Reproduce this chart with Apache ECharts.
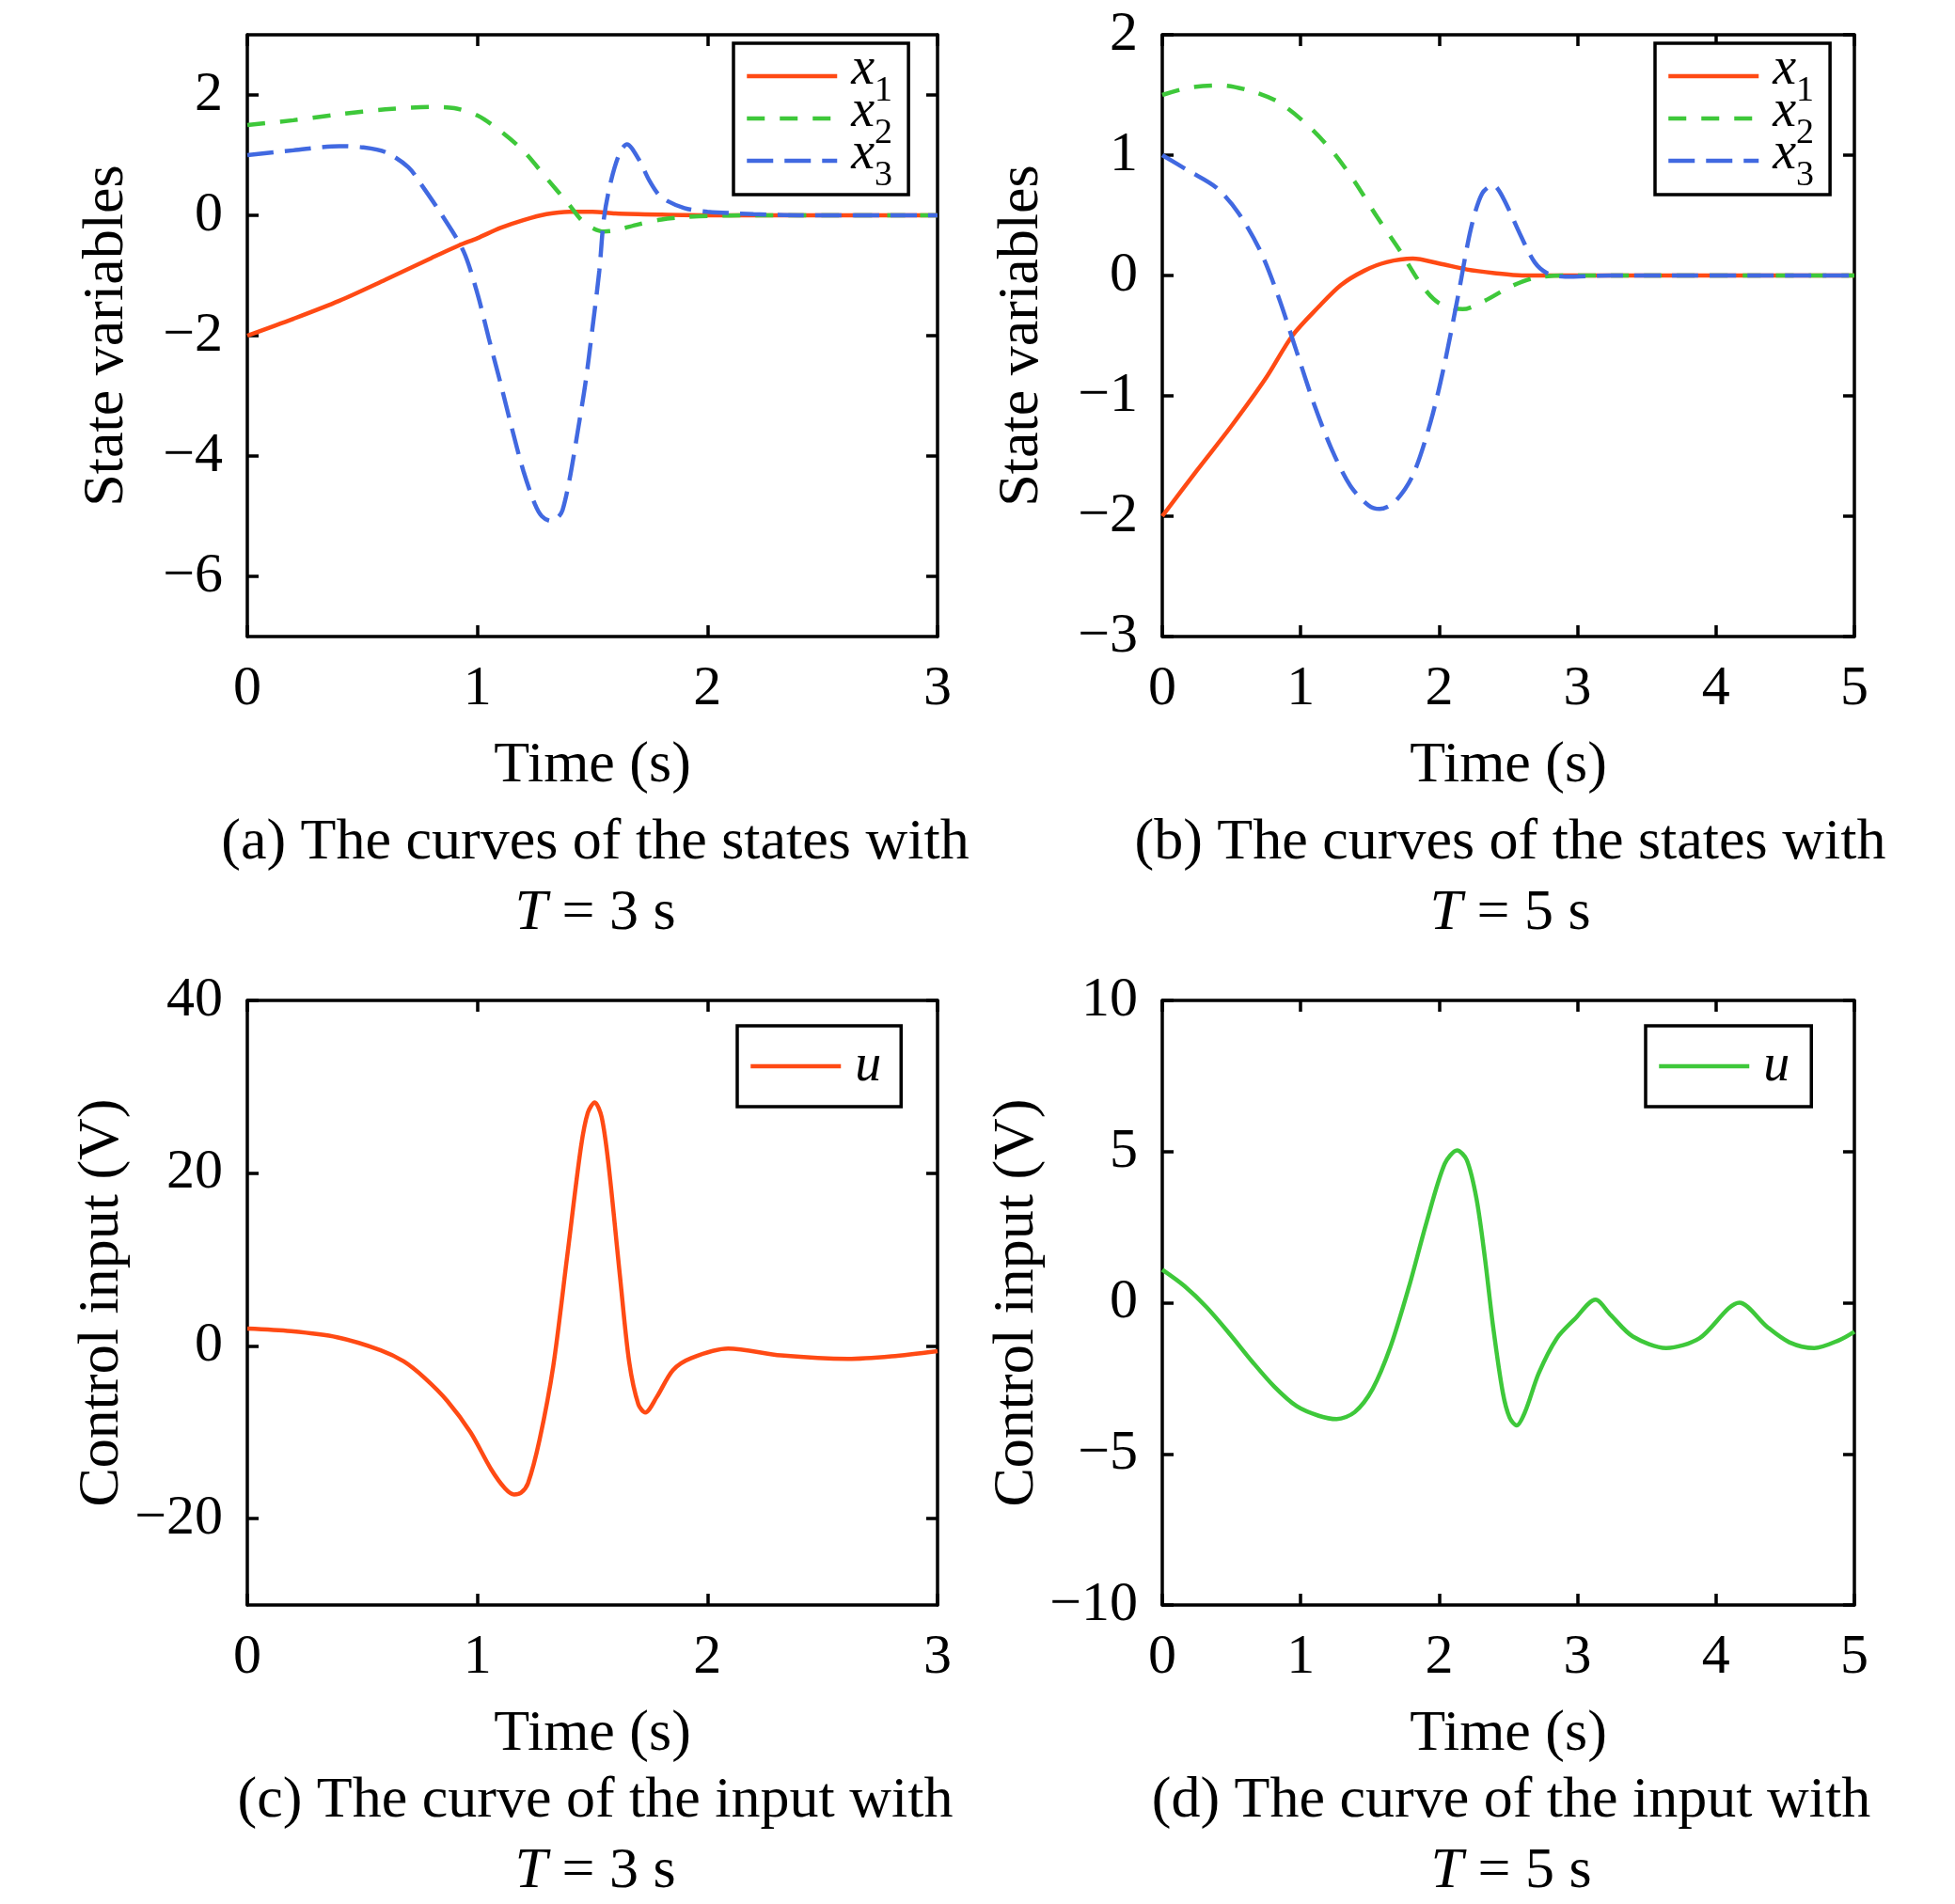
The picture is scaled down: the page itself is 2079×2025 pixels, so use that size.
<!DOCTYPE html>
<html>
<head>
<meta charset="utf-8">
<title>State and input curves</title>
<script src="https://cdn.jsdelivr.net/npm/echarts@6/dist/echarts.min.js"></script>
<style>
  html, body { margin: 0; padding: 0; background: #fff; }
  #main { width: 2079px; height: 2025px; }
</style>
</head>
<body>
<div id="main"></div>
<script>
var myChart = echarts.init(document.getElementById('main'));

/* (a) states, T = 3 s */
var tX1a = [0, 0.2, 0.4, 0.6, 0.8, 0.92, 1.0, 1.1, 1.2, 1.3, 1.4, 1.5, 1.6, 1.8, 2.0, 2.5, 3.0];
var x1a  = [-2, -1.72, -1.42, -1.07, -0.71, -0.5, -0.38, -0.21, -0.08, 0.02, 0.06, 0.06, 0.03, 0.01, 0, 0, 0];
var tX2a = [0, 0.2, 0.4, 0.6, 0.8, 0.9, 1.0, 1.1, 1.2, 1.3, 1.4, 1.45, 1.5, 1.55, 1.6, 1.7, 1.8, 1.9, 2.0, 2.2, 2.5, 3.0];
var x2a  = [1.5, 1.58, 1.68, 1.76, 1.8, 1.78, 1.66, 1.4, 1.07, 0.62, 0.17, -0.07, -0.21, -0.27, -0.25, -0.15, -0.07, -0.03, -0.01, 0, 0, 0];
var tX3a = [0, 0.2, 0.4, 0.5, 0.6, 0.7, 0.76, 0.85, 0.94, 1.0, 1.05, 1.1, 1.15, 1.2, 1.25, 1.28, 1.32, 1.35, 1.37, 1.4, 1.44, 1.47, 1.5, 1.53, 1.55, 1.58, 1.62, 1.65, 1.7, 1.75, 1.8, 1.9, 2.0, 2.2, 2.4, 3.0];
var x3a  = [1.0, 1.08, 1.15, 1.13, 1.05, 0.8, 0.49, -0.02, -0.6, -1.3, -2.05, -2.78, -3.54, -4.25, -4.8, -5.0, -5.08, -5.02, -4.9, -4.4, -3.5, -2.78, -1.88, -0.92, -0.05, 0.56, 1.05, 1.18, 0.94, 0.56, 0.3, 0.12, 0.06, 0.02, 0, 0];

/* (b) states, T = 5 s */
var tX1b = [0, 0.25, 0.5, 0.75, 0.94, 1.13, 1.29, 1.46, 1.62, 1.81, 2.0, 2.2, 2.4, 2.6, 3.0, 5.0];
var x1b  = [-2, -1.62, -1.25, -0.85, -0.5, -0.26, -0.08, 0.04, 0.11, 0.14, 0.1, 0.05, 0.02, 0, 0, 0];
var tX2b = [0, 0.19, 0.42, 0.65, 0.84, 1.04, 1.23, 1.39, 1.55, 1.72, 1.88, 2.0, 2.17, 2.33, 2.52, 2.69, 2.91, 5.0];
var x2b  = [1.5, 1.56, 1.58, 1.53, 1.44, 1.26, 1.03, 0.78, 0.49, 0.2, -0.09, -0.23, -0.28, -0.21, -0.09, -0.02, 0, 0];
var tX3b = [0, 0.19, 0.39, 0.55, 0.71, 0.84, 0.97, 1.1, 1.23, 1.36, 1.49, 1.57, 1.68, 1.81, 1.94, 2.04, 2.14, 2.23, 2.31, 2.39, 2.46, 2.59, 2.69, 2.78, 2.91, 3.24, 5.0];
var x3b  = [1, 0.87, 0.73, 0.52, 0.2, -0.18, -0.63, -1.08, -1.46, -1.75, -1.91, -1.94, -1.88, -1.66, -1.21, -0.73, -0.15, 0.39, 0.68, 0.75, 0.65, 0.33, 0.11, 0.02, -0.01, 0, 0];

/* (c) input, T = 3 s */
var tUc = [0, 0.19, 0.39, 0.58, 0.68, 0.77, 0.87, 0.97, 1.06, 1.12, 1.16, 1.19, 1.22, 1.27, 1.33, 1.39, 1.45, 1.48, 1.51, 1.54, 1.57, 1.62, 1.66, 1.70, 1.73, 1.78, 1.85, 1.93, 2.09, 2.32, 2.61, 2.8, 3.0];
var uc  = [2.0, 1.7, 1.0, -0.5, -1.8, -3.7, -6.4, -10, -14.3, -16.5, -17.2, -17.0, -15.9, -10.9, -2.3, 10.3, 23, 27, 28.2, 26.5, 21, 8, -1.9, -6.8, -7.7, -5.9, -2.8, -1.4, -0.3, -1.1, -1.5, -1.2, -0.6];

/* (d) input, T = 5 s */
var tUd = [0, 0.16, 0.32, 0.49, 0.65, 0.81, 0.97, 1.13, 1.26, 1.39, 1.52, 1.65, 1.78, 1.91, 2.04, 2.13, 2.2, 2.27, 2.33, 2.39, 2.46, 2.51, 2.56, 2.62, 2.72, 2.85, 2.98, 3.13, 3.24, 3.4, 3.64, 3.88, 4.17, 4.37, 4.53, 4.71, 4.89, 5.0];
var ud  = [1.09, 0.55, -0.15, -1.05, -1.95, -2.78, -3.42, -3.74, -3.85, -3.62, -2.85, -1.44, 0.49, 2.67, 4.59, 5.04, 4.72, 3.44, 1.51, -0.79, -2.97, -3.81, -4.06, -3.62, -2.33, -1.18, -0.54, 0.1, -0.41, -1.12, -1.5, -1.18, 0.0, -0.8, -1.31, -1.5, -1.24, -0.96];

/* tick labels */
var yTicksA = [-6, -4, -2, 0, 2];
var yTicksB = [-3, -2, -1, 0, 1, 2];
var yTicksC = [-20, 0, 20, 40];
var yTicksD = [-10, -5, 0, 5, 10];

var captions = [
	'(a) The curves of the states with\n{i|T} = 3 s',
	'(b) The curves of the states with\n{i|T} = 5 s',
	'(c) The curve of the input with\n{i|T} = 3 s',
	'(d) The curve of the input with\n{i|T} = 5 s'
];

var FONT = 'Liberation Serif';
var RED = '#ff4a14', GREEN = '#3ec83a', BLUE = '#4169e1';

function zip(t, v) {
	return t.map(function (x, i) { return [x, v[i]]; });
}

function minus(v) {
	return v < 0 ? '\u2212' + Math.abs(v) : String(v);
}

var grids = [
	{left: 263, top: 37, width: 734, height: 640},
	{left: 1236, top: 37, width: 736, height: 640},
	{left: 263, top: 1064, width: 734, height: 643},
	{left: 1236, top: 1064, width: 736, height: 643}
];

var xMax = [3, 5, 3, 5];
var yRange = [[-7, 3], [-3, 2], [-30, 40], [-10, 10]];
var yTicks = [yTicksA, yTicksB, yTicksC, yTicksD];
var yNames = ['State variables', 'State variables', 'Control input (V)', 'Control input (V)'];

var axisLine = {onZero: false, lineStyle: {color: '#000', width: 3.5}};
var tick = {inside: true, length: 12, lineStyle: {color: '#000', width: 3.5}};

var xAxes = [], yAxes = [];
grids.forEach(function (g, i) {
	xAxes.push({
		type: 'value', gridIndex: i, min: 0, max: xMax[i], interval: 1,
		position: 'bottom',
		name: 'Time (s)', nameLocation: 'middle', nameGap: 107,
		nameTextStyle: {fontFamily: FONT, fontSize: 62, color: '#000'},
		axisLine: axisLine, axisTick: tick, splitLine: {show: false},
		axisLabel: {fontFamily: FONT, fontSize: 60, color: '#000', margin: 26}
	});
	xAxes.push({
		type: 'value', gridIndex: i, min: 0, max: xMax[i], interval: 1,
		position: 'top',
		axisLine: axisLine, axisTick: tick, splitLine: {show: false},
		axisLabel: {show: false}
	});
	yAxes.push({
		type: 'value', gridIndex: i, min: yRange[i][0], max: yRange[i][1],
		position: 'left',
		name: yNames[i], nameLocation: 'middle', nameGap: 118,
		nameTextStyle: {fontFamily: FONT, fontSize: 62, color: '#000'},
		axisLine: axisLine,
		axisTick: {inside: true, length: 12, lineStyle: {color: '#000', width: 3.5}, customValues: yTicks[i]},
		splitLine: {show: false},
		axisLabel: {fontFamily: FONT, fontSize: 60, color: '#000', margin: 26,
			customValues: yTicks[i], formatter: minus}
	});
	yAxes.push({
		type: 'value', gridIndex: i, min: yRange[i][0], max: yRange[i][1],
		position: 'right',
		axisLine: axisLine,
		axisTick: {inside: true, length: 12, lineStyle: {color: '#000', width: 3.5}, customValues: yTicks[i]},
		splitLine: {show: false},
		axisLabel: {show: false, customValues: yTicks[i]}
	});
});

function line(name, i, data, color, dash) {
	return {
		name: name, type: 'line', xAxisIndex: i * 2, yAxisIndex: i * 2,
		data: data, smooth: 0.3, symbol: 'none', showSymbol: false,
		lineStyle: {color: color, width: 4.5, type: dash || 'solid'},
		itemStyle: {color: color},
		z: dash ? 3 : 2
	};
}

var legendText = {
	'x1 a': '{i|x}{s|1}', 'x2 a': '{i|x}{s|2}', 'x3 a': '{i|x}{s|3}',
	'x1 b': '{i|x}{s|1}', 'x2 b': '{i|x}{s|2}', 'x3 b': '{i|x}{s|3}',
	'u c': '{u|u}', 'u d': '{u|u}'
};

/* italic letter sits at the top of a tall line, the index at its bottom */
var legendStyle = {
	fontFamily: FONT, fontSize: 54, color: '#000',
	rich: {
		i: {fontFamily: FONT, fontSize: 56, fontStyle: 'italic', color: '#000', lineHeight: 70,
			verticalAlign: 'top', padding: [0, 0, 0, 10]},
		s: {fontFamily: FONT, fontSize: 38, color: '#000', verticalAlign: 'bottom'},
		u: {fontFamily: FONT, fontSize: 56, fontStyle: 'italic', color: '#000', lineHeight: 45,
			padding: [0, 0, 0, 10]}
	}
};

function legend(names, left, top, padding, gap) {
	return {
		data: names, orient: 'vertical', left: left, top: top,
		padding: padding, itemGap: gap, itemWidth: 96, itemHeight: 20,
		borderColor: '#000', borderWidth: 3.5, backgroundColor: '#fff',
		selectedMode: false,
		itemStyle: {opacity: 0},
		lineStyle: {width: 4.5},
		formatter: function (n) { return legendText[n]; },
		textStyle: legendStyle
	};
}

var option = {
	backgroundColor: '#fff',
	animation: false,
	title: captions.map(function (c, i) {
		return {
			text: c, left: [633, 1606, 633, 1607][i], top: i < 2 ? 859 : 1878,
			textAlign: 'center', padding: 0,
			textStyle: {
				fontFamily: FONT, fontSize: 62, fontWeight: 'normal', color: '#000', lineHeight: 75,
				rich: {i: {fontFamily: FONT, fontSize: 62, fontStyle: 'italic', color: '#000', lineHeight: 75}}
			}
		};
	}),
	legend: [
		legend(['x1 a', 'x2 a', 'x3 a'], 780, 46, [0, 17, 1, 12], -25),
		legend(['x1 b', 'x2 b', 'x3 b'], 1760, 46, [0, 17, 1, 12], -25),
		legend(['u c'], 784, 1091, [15, 21, 15, 12], 0),
		legend(['u d'], 1750, 1091, [15, 23, 15, 12], 0)
	],
	grid: grids,
	xAxis: xAxes,
	yAxis: yAxes,
	series: [
		line('x1 a', 0, zip(tX1a, x1a), RED),
		line('x2 a', 0, zip(tX2a, x2a), GREEN, [19, 16]),
		line('x3 a', 0, zip(tX3a, x3a), BLUE, [28, 12]),
		line('x1 b', 1, zip(tX1b, x1b), RED),
		line('x2 b', 1, zip(tX2b, x2b), GREEN, [19, 16]),
		line('x3 b', 1, zip(tX3b, x3b), BLUE, [28, 12]),
		line('u c', 2, zip(tUc, uc), RED),
		line('u d', 3, zip(tUd, ud), GREEN)
	]
};
myChart.setOption(option);
</script>
</body>
</html>
